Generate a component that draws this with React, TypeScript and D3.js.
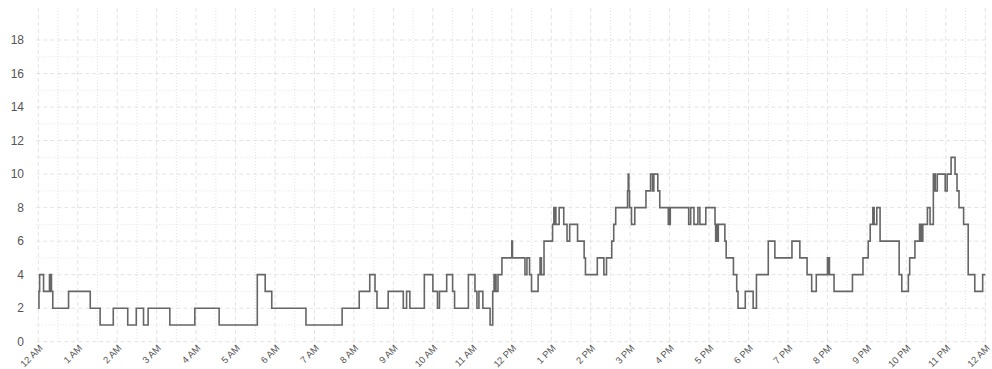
import React from "react";
import * as d3 from "d3";

const changeTimes = ["00:00","00:01","00:02","00:08","00:17","00:18","00:19","00:20","00:22","00:46","01:19","01:34","01:54","02:16","02:29","02:40","02:47","03:20","03:58","04:35","05:33","05:45","05:55","06:47","07:42","08:08","08:24","08:32","08:35","08:52","09:15","09:20","09:25","09:47","10:00","10:07","10:10","10:21","10:30","10:33","10:54","11:04","11:07","11:10","11:16","11:27","11:31","11:33","11:34","11:35","11:36","11:39","11:45","12:00","12:01","12:20","12:23","12:27","12:30","12:40","12:43","12:45","12:49","13:02","13:04","13:05","13:06","13:07","13:12","13:19","13:24","13:28","13:40","13:50","13:52","14:10","14:20","14:24","14:32","14:35","14:38","14:56","14:57","14:58","14:59","15:02","15:07","15:24","15:31","15:34","15:36","15:42","15:45","15:58","15:59","16:00","16:01","16:29","16:32","16:37","16:43","16:46","16:55","17:09","17:10","17:11","17:12","17:14","17:24","17:26","17:37","17:42","17:44","17:55","18:07","18:12","18:30","18:40","19:06","19:18","19:29","19:36","19:43","20:00","20:01","20:02","20:03","20:10","20:38","20:54","21:02","21:05","21:09","21:11","21:15","21:20","21:49","21:53","22:03","22:05","22:13","22:20","22:22","22:23","22:24","22:25","22:32","22:36","22:41","22:42","22:43","22:44","22:47","22:59","23:02","23:08","23:14","23:17","23:20","23:27","23:34","23:44","23:56","24:00"];

const changeValues = [2,3,4,3,4,3,4,3,2,3,2,1,2,1,2,1,2,1,2,1,4,3,2,1,2,3,4,3,2,3,2,3,2,4,3,2,3,4,3,2,4,3,2,3,2,1,3,4,3,4,3,4,5,6,5,4,5,4,3,4,5,4,6,7,8,7,8,7,8,7,6,7,6,5,4,5,4,5,6,7,8,9,10,9,8,7,8,9,10,9,10,9,8,7,8,7,8,7,8,7,8,7,8,7,6,7,6,7,6,5,4,3,2,3,2,4,6,5,6,5,4,3,4,5,4,5,4,3,4,5,6,7,8,7,8,6,4,3,4,5,6,7,6,7,6,7,8,7,10,9,10,9,10,9,10,11,10,9,8,7,4,3,4,4];

const yTicks = [0, 2, 4, 6, 8, 10, 12, 14, 16, 18];
const yMinor = [1, 3, 5, 7, 9, 11, 13, 15, 17];

const W = 992;
const H = 369;
const X0 = 38.3;
const X1 = 985.3;
const Y0 = 341.7;
const YTOP = 8;

function toDate(t: string): Date {
  const [h, m] = t.split(":").map(Number);
  return new Date(2024, 0, 1, h, m);
}

export default function App() {
  const start = new Date(2024, 0, 1, 0, 0);
  const end = new Date(2024, 0, 2, 0, 0);
  const x = d3.scaleTime().domain([start, end]).range([X0, X1]);
  const y = d3.scaleLinear().domain([0, (Y0 - YTOP) / ((Y0 - 40) / 18)]).range([Y0, YTOP]);

  const hours = d3.timeHour.every(1)!.range(start, d3.timeHour.offset(end, 1));
  const halfHours = d3.timeMinute.every(30)!.range(start, end).filter((d) => d.getMinutes() === 30);
  const fmt = d3.timeFormat("%-I %p");

  const data = changeTimes.map((t, i) => ({ t: toDate(t), v: changeValues[i] }));
  const line = d3
    .line<{ t: Date; v: number }>()
    .x((d) => x(d.t))
    .y((d) => y(d.v))
    .curve(d3.curveStepAfter);

  const gridColor = "#e3e3e3";

  return (
    <svg
      width={W}
      height={H}
      style={{ position: "absolute", left: 0, top: 0, fontFamily: "'Liberation Sans', Arial, sans-serif" }}
    >
      <rect width={W} height={H} fill="#fff" />
      <g>
        {halfHours.map((d, i) => (
          <line key={"hm" + i} x1={x(d)} x2={x(d)} y1={YTOP} y2={Y0 + 2} stroke={gridColor} strokeWidth={1} strokeDasharray="1,2" />
        ))}
        {yMinor.map((v) => (
          <line key={"ym" + v} x1={X0 - 2} x2={X1 + 2} y1={y(v)} y2={y(v)} stroke={gridColor} strokeWidth={1} strokeDasharray="1,2" />
        ))}
        {hours.map((d, i) => (
          <line key={"h" + i} x1={x(d)} x2={x(d)} y1={YTOP} y2={Y0 + 2} stroke={gridColor} strokeWidth={1} strokeDasharray="4,3" />
        ))}
        {yTicks.map((v) => (
          <line key={"y" + v} x1={X0 - 2} x2={X1 + 2} y1={y(v)} y2={y(v)} stroke={gridColor} strokeWidth={1} strokeDasharray="4,3" />
        ))}
      </g>
      <path d={line(data) || ""} fill="none" stroke="#666" strokeWidth={1.6} />
      <g fill="#555" fontSize={12}>
        {yTicks.map((v) => (
          <text key={"yl" + v} x={24} y={y(v)} dy="0.35em" textAnchor="end">
            {v}
          </text>
        ))}
      </g>
      <g fill="#555" fontSize={9.5}>
        {hours.map((d, i) => (
          <text
            key={"xl" + i}
            transform={`translate(${x(d) + 5},${Y0 + 7}) rotate(-45)`}
            textAnchor="end"
          >
            {fmt(d)}
          </text>
        ))}
      </g>
    </svg>
  );
}
